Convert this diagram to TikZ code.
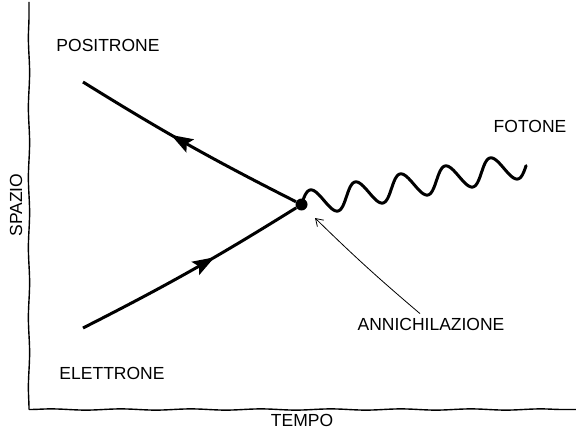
\documentclass[tikz,border=0pt]{standalone}
\usepackage{fontspec}
\setmainfont{Liberation Sans}
\usetikzlibrary{arrows.meta, decorations.pathmorphing, decorations.markings, positioning}

\tikzset{
  axisline/.style={line width=1.4pt, decorate, decoration={snake, amplitude=0.6pt, segment length=70pt}},
  fermion/.style={line width=3pt, postaction={decorate},
    decoration={markings, mark=at position #1 with {\arrow{Stealth[length=22pt, width=15pt, inset=4pt]}}}},
  photon/.style={line width=3pt, line join=round, line cap=round},
  tag/.style={font=\fontsize{17.5}{20}\selectfont, inner sep=0pt},
}

\begin{document}
\begin{tikzpicture}[x=1pt, y=1pt]
\useasboundingbox (0,0) rectangle (576,432);

% axes
\coordinate (origin) at (29,22.5);
\coordinate (ytop) at (29,430);
\coordinate (xend) at (577,22.5);
\draw[axisline] (origin) -- (ytop);
\draw[axisline] (origin) -- (xend);

\begin{scope}[every node/.style={tag}]
    \node (tempo) at (302,12) {TEMPO};
    \node[rotate=90] (spazio) at (16,227) {SPAZIO};
    \node (positrone) at (108,387) {POSITRONE};
    \node (elettrone) at (112,58.5) {ELETTRONE};
    \node (fotone) at (530,305.5) {FOTONE};
    \node (annich) at (431,108) {ANNICHILAZIONE};
\end{scope}

\node[circle, fill, inner sep=0pt, minimum size=12pt] (v) at (301.5,227.5) {};
\coordinate (p) at (83,350);
\coordinate (e) at (83,104);
\coordinate (vtip) at (315,214);

\draw[fermion=0.58] (v) to[bend left=2.5] (p);
\draw[fermion=0.61] (e) to[bend right=2.5] (v);
\draw[photon, shift={(v.center)}] plot[domain=0:1795, samples=220, smooth]
    ({\x/8 - 2.5*sin(\x)}, {0.178*(\x/8 - 2.5*sin(\x)) + 13*sin(\x)});

\draw[line width=0.8pt, -{Straight Barb[length=7pt, width=9pt]}]
    ([xshift=-11pt, yshift=4pt]annich.north) to[bend left=2] (vtip);
\end{tikzpicture}
\end{document}
